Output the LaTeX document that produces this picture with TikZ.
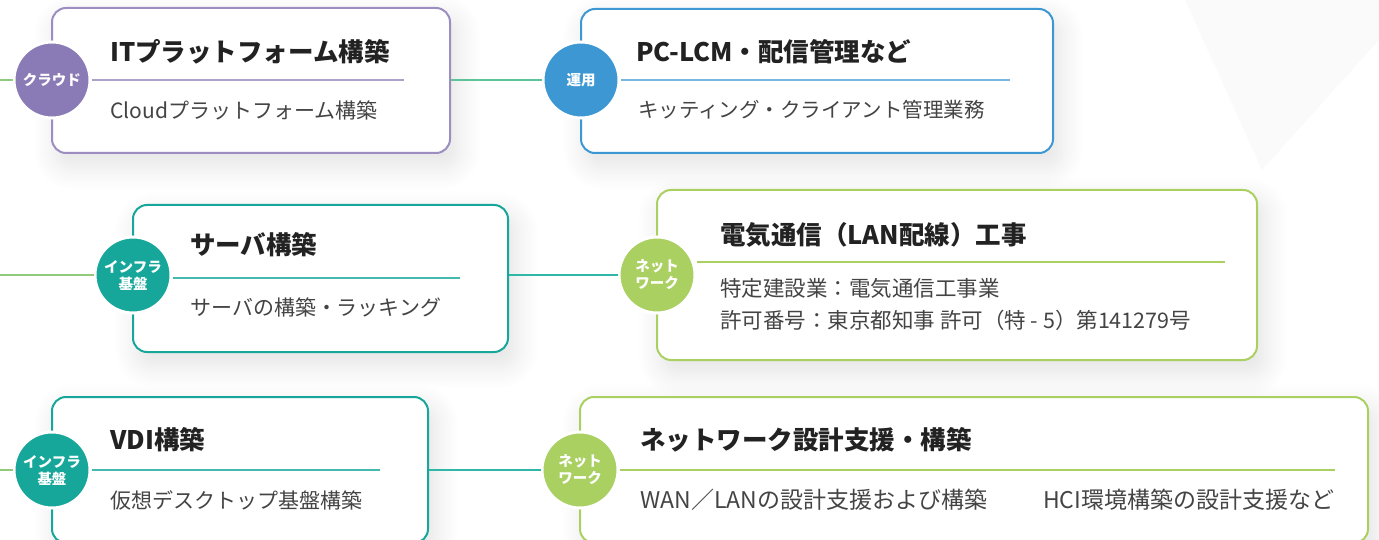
\documentclass[tikz,border=0pt]{standalone}
\usepackage{fontspec}
\setmainfont{Noto Sans CJK JP}
\usepackage{tikz}
\usetikzlibrary{positioning,shadows,shadows.blur}
\definecolor{cpurple}{RGB}{138, 122, 182}
\definecolor{cblue}{RGB}{60, 151, 211}
\definecolor{cteal}{RGB}{22, 167, 154}
\definecolor{clime}{RGB}{170, 208, 98}
\definecolor{lgreen}{RGB}{143, 203, 122}
\definecolor{mgreen}{RGB}{92, 195, 154}
\definecolor{lteal}{RGB}{47, 184, 168}
\definecolor{dtext}{RGB}{34, 34, 34}
\definecolor{stext}{RGB}{68, 68, 68}
\tikzstyle{card} = [rectangle, draw, line width=2pt, fill=white, rounded corners=14pt,
  blur shadow={shadow xshift=6pt, shadow yshift=-12pt, shadow blur radius=24pt,
  shadow blur steps=14, shadow opacity=12}]
\tikzstyle{badge} = [circle, draw=white, line width=3pt, minimum size=76pt, inner sep=0pt,
  text=white, align=center, font=\bfseries\fontsize{14.5}{17}\selectfont]
\tikzstyle{title} = [anchor=west, inner sep=0pt, text=dtext, font=\bfseries\fontsize{25.5}{30}\selectfont]
\tikzstyle{sub} = [anchor=west, inner sep=0pt, text=stext, align=left, font=\fontsize{21}{32}\selectfont]
\tikzstyle{link} = [draw, line width=1.6pt]
\begin{document}
\begin{tikzpicture}[x=1pt, y=-1pt]
  \clip (0,0) rectangle (1379,540);
  \fill [black!2] (1185,0) -- (1379,0) -- (1379,40) -- (1262,170) -- cycle;

  % row 1
  \node [card, draw=cpurple!85, minimum width=398pt, minimum height=145pt] (c1) at (251,80.5) {};
  \node [card, draw=cblue, minimum width=472pt, minimum height=144pt] (c2) at (817,81) {};
  \coordinate (l1) at (0,80);
  \node [badge, fill=cpurple] (b1) at (52,80) {クラウド};
  \node [badge, fill=cblue] (b2) at (581,80) {運用};
  \path [link, color=lgreen] (l1) -- (b1);
  \path [link, color=mgreen] (c1.east |- b1) -- (b2);
  \node [title] (t1) at (110,52) {ITプラットフォーム構築};
  \node [sub] (s1) at (110,110) {Cloudプラットフォーム構築};
  \coordinate (e1) at (404,80);
  \path [link, color=cpurple!70] (b1) -- (e1);
  \node [title] (t2) at (636,52) {PC-LCM・配信管理など};
  \node [sub, font=\fontsize{20.5}{30}\selectfont] (s2) at (638,110) {キッティング・クライアント管理業務};
  \coordinate (e2) at (1010,80);
  \path [link, color=cblue!70] (b2) -- (e2);

  % row 2
  \node [card, draw=cteal, minimum width=375pt, minimum height=147pt] (c3) at (320.5,278.5) {};
  \node [card, draw=clime, minimum width=600pt, minimum height=170pt] (c4) at (957,275) {};
  \coordinate (l3) at (0,275);
  \node [badge, fill=cteal] (b3) at (133,275) {インフラ\\基盤};
  \node [badge, fill=clime] (b4) at (657,275) {ネット\\ワーク};
  \path [link, color=lgreen] (l3) -- (b3);
  \path [link, color=lteal] (c3.east |- b3) -- (b4);
  \node [title] (t3) at (190,245) {サーバ構築};
  \node [sub] (s3) at (190,307) {サーバの構築・ラッキング};
  \coordinate (e3) at (460,278);
  \path [link, color=cteal!80] (b3.east |- e3) -- (e3);
  \node [title] (t4) at (720,235) {電気通信（LAN配線）工事};
  \node [sub, font=\fontsize{21.5}{32}\selectfont] (s4) at (720,304) {特定建設業：電気通信工事業\\許可番号：東京都知事 許可（特 - 5）第141279号};
  \coordinate (e4) at (1225,262);
  \path [link, color=clime] (b4.east |- e4) -- (e4);

  % row 3
  \node [card, draw=cteal, minimum width=376pt, minimum height=146pt] (c5) at (240,470) {};
  \node [card, draw=clime, minimum width=788pt, minimum height=146pt] (c6) at (974,470) {};
  \coordinate (l5) at (0,470);
  \node [badge, fill=cteal] (b5) at (52,470) {インフラ\\基盤};
  \node [badge, fill=clime] (b6) at (580,470) {ネット\\ワーク};
  \path [link, color=lgreen] (l5) -- (b5);
  \path [link, color=lteal] (c5.east |- b5) -- (b6);
  \node [title] (t5) at (110,440) {VDI構築};
  \node [sub] (s5) at (110,500) {仮想デスクトップ基盤構築};
  \coordinate (e5) at (380,470);
  \path [link, color=cteal!80] (b5) -- (e5);
  \node [title] (t6) at (640,440) {ネットワーク設計支援・構築};
  \node [sub, font=\fontsize{23}{32}\selectfont] (s6) at (640,500) {WAN／LANの設計支援および構築};
  \node [sub, font=\fontsize{23}{32}\selectfont] (s7) at (1043,500) {HCI環境構築の設計支援など};
  \coordinate (e6) at (1335,470);
  \path [link, color=clime] (b6) -- (e6);
\end{tikzpicture}
\end{document}
